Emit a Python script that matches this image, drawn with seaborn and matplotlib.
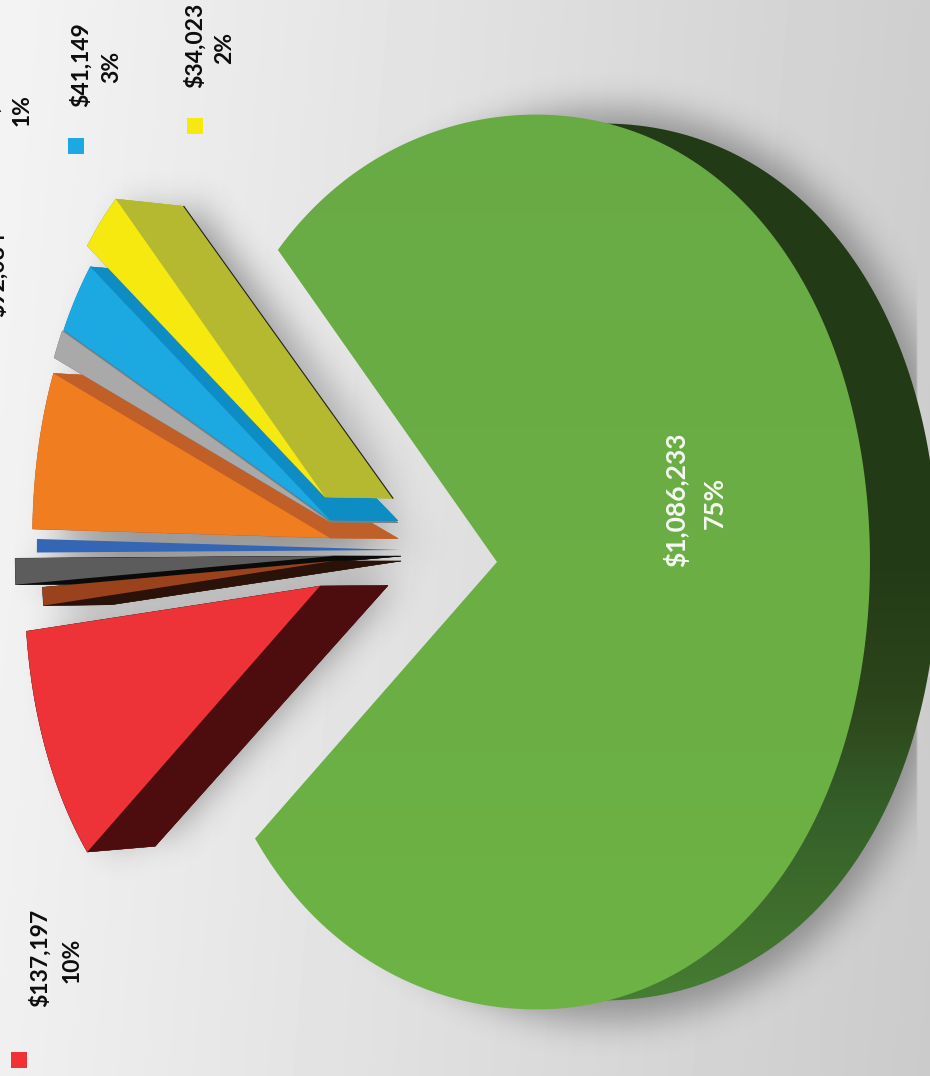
import numpy as np
import matplotlib
matplotlib.use("Agg")
import matplotlib.pyplot as plt
import seaborn as sns
from matplotlib.colors import LinearSegmentedColormap
from matplotlib.patches import Polygon, Rectangle
from matplotlib.path import Path

# Expense slices, in pie order, counter-clockwise from the lower edge of the big slice
names = ["Main", "Yellow", "Cyan", "Gray", "Orange", "Blue", "Slate", "Brown", "Red"]
values = [1086233, 34023, 41149, 16500, 92084, 6500, 14500, 11000, 137197]
top_colors = ["#6bae44", "#f5e90f", "#1ca8e0", "#a9a9a9", "#f07d20",
              "#3565b5", "#5c5c5c", "#9a421c", "#ee3338"]
side_colors = ["#233a17", "#b5b930", "#0e8cc4", "#7f7f7f", "#c05f28",
               None, "#0a0a0a", "#2a1208", "#4d0d0f"]
# Where each slice's point sits once pulled out of the pie, and its size relative to the big slice
apex_x = [497, 325, 330, 330, 330, 400, 333, 333, 320]
apex_y = [562, 497, 520, 522, 538, 550, 556, 561, 586]
radius = [1.0, 0.958, 0.965, 0.97, 0.972, 1.165, 1.032, 0.953, 0.965]
draw_order = [0, 5, 6, 7, 8, 4, 3, 2, 1]

# Value labels and their legend swatches
label_values = [137197, 41149, 34023, 16500, 92084]
label_shares = ["10%", "3%", "2%", "1%", None]
label_x = [40, 81, 195, -9, -3]
label_y = [958, 65, 45, 108, 274]
share_x = [72, 112, 225, 22, None]
share_y = [960, 67, 48, 110, None]
swatch_x = [11, 68, 187]
swatch_y = [1052, 138, 118]
swatch_colors = ["#ee3338", "#1ca8e0", "#f5e90f"]

W, H = 930, 1076
RX, RY = 340.0, 447.0       # pie radii on the page
PERSPECTIVE = 0.097         # the rim is centred this far to the right of the slice point
SQUARENESS = 0.02           # the rim bulges a little on the diagonals
START_ANGLE = 221.0
DEPTH_X = 68.0
DEPTH_SHRINK = 0.98
MID_Y = 562.0

sns.set_theme(style="white")
plt.rcParams["font.family"] = ["Lato", "DejaVu Sans"]

fig = plt.figure(figsize=(W / 100, H / 100), dpi=100)
ax = fig.add_axes([0, 0, 1, 1])
ax.set_xlim(0, W)
ax.set_ylim(H, 0)
ax.axis("off")

# Pale backdrop that darkens towards the right
ramp_x = np.linspace(0.955, 0.81, 256)
ramp_y = np.linspace(0.0, -0.015, 256)[:, None]
ax.imshow(ramp_x + ramp_y, cmap="gray", vmin=0, vmax=1, extent=(0, W, H, 0),
          interpolation="bilinear", aspect="auto", zorder=0)


def slice_faces(i, theta1, theta2):
    """Front face outline of a slice, with the rim on a slightly off-centre circle."""
    n = max(int((theta2 - theta1) * 1.5), 2)
    th = np.radians(np.linspace(theta1, theta2, n))
    r = radius[i]
    t = PERSPECTIVE * np.cos(th) + np.sqrt(r ** 2 - (PERSPECTIVE * np.sin(th)) ** 2)
    t = t * (1 + SQUARENESS * np.sin(2 * th) ** 2)
    xs = apex_x[i] + t * np.cos(th) * RX
    ys = apex_y[i] - t * np.sin(th) * RY
    return np.column_stack([np.r_[apex_x[i], xs], np.r_[apex_y[i], ys]])


def extrude(points):
    """Same outline on the back of the pie."""
    out = points.copy()
    out[:, 0] += DEPTH_X
    out[:, 1] = MID_Y + (out[:, 1] - MID_Y) * DEPTH_SHRINK
    return out


def box_blur(img, size):
    """Three box passes along each axis, close to a gaussian."""
    for _ in range(3):
        for axis in (0, 1):
            c = np.cumsum(np.insert(img, 0, 0, axis=axis), axis=axis)
            n = img.shape[axis]
            lo = np.clip(np.arange(n) - size, 0, n)
            hi = np.clip(np.arange(n) + size + 1, 0, n)
            img = (np.take(c, hi, axis=axis) - np.take(c, lo, axis=axis)) / (2 * size + 1)
    return img


# Slice angles follow directly from the values
share = np.array(values, dtype=float) / np.sum(values)
sweep = share * 360.0
ends = START_ANGLE + np.cumsum(sweep)
starts = ends - sweep
fronts = [slice_faces(i, starts[i], ends[i]) for i in range(len(values))]
backs = [extrude(f) for f in fronts]

# Soft drop shadow under the whole group, cut off short of the right edge
gx, gy = np.meshgrid(np.arange(0, W, 2) + 1.0, np.arange(0, H, 2) + 1.0)
grid = np.column_stack([gx.ravel(), gy.ravel()])
big = np.zeros(gx.shape)
small = np.zeros(gx.shape)
for i, (f, b) in enumerate(zip(fronts, backs)):
    if i == 0:
        grown = b.copy()
        grown[:, 0] = 598 + (grown[:, 0] - 598) * 1.04
        grown[:, 1] = MID_Y + (grown[:, 1] - MID_Y) * 1.04 + 3
        big = np.maximum(big, Path(grown).contains_points(grid).reshape(gx.shape))
    else:
        small = np.maximum(small, Path(b + np.array([8.0, -6.0])).contains_points(grid).reshape(gx.shape))
        small = np.maximum(small, Path(f + np.array([30.0, 0.0])).contains_points(grid).reshape(gx.shape))
shade = np.maximum(box_blur(big.astype(float), 8) * 0.38, box_blur(small.astype(float), 8) * 0.42)
shade[:, gx[0] > 916] = 0
rgba = np.zeros(shade.shape + (4,))
rgba[..., :3] = 0.12
rgba[..., 3] = shade
ax.imshow(rgba, extent=(0, W, H, 0), interpolation="bilinear", aspect="auto", zorder=1)
ax.set_xlim(0, W)
ax.set_ylim(H, 0)


def gradient_fill(points, stops, zorder):
    """Fill an outline with a top-to-bottom colour ramp."""
    cmap = LinearSegmentedColormap.from_list("ramp", stops)
    im = ax.imshow(np.linspace(0, 1, 256)[:, None], cmap=cmap, extent=(0, W, H, 0),
                   aspect="auto", zorder=zorder)
    im.set_clip_path(Polygon(points, closed=True, transform=ax.transData))


# Big slice: shaded rim first, then the face
gradient_fill(backs[0],
              [(0.0, "#233a17"), (0.52, "#233a17"), (0.65, "#2d451b"),
               (0.76, "#35602a"), (0.88, "#42742f"), (1.0, "#4c8a3a")], 2)
gradient_fill(fronts[0], [(0.0, "#68a944"), (0.5, "#6bae44"), (1.0, "#6db344")], 3)

# Pulled-out slices, outer ones first so the neighbours overlap correctly
for z, i in enumerate(draw_order[1:]):
    base = 4 + z * 2
    f, b = fronts[i], backs[i]
    col = side_colors[i]
    if col is not None:
        ax.fill(b[:, 0], b[:, 1], color=col, lw=0.3, zorder=base)
        for a, c in zip(range(len(f)), list(range(1, len(f))) + [0]):
            quad = np.array([f[a], f[c], b[c], b[a]])
            ax.fill(quad[:, 0], quad[:, 1], color=col, lw=0.3, zorder=base)
    ax.fill(f[:, 0], f[:, 1], color=top_colors[i], lw=0, zorder=base + 1)

# Thin dark line on the back edge of the yellow slice
yb = backs[1]
ax.plot([yb[0, 0], yb[1, 0]], [yb[0, 1], yb[1, 1]], color="#222222", lw=0.8, zorder=30)

# Swatches
for x, y, c in zip(swatch_x, swatch_y, swatch_colors):
    ax.add_patch(Rectangle((x, y), 16, 16, facecolor=c, edgecolor="none", zorder=31))

# Labels, all turned on their side
text_style = dict(rotation=90, ha="center", va="center", fontsize=16.5,
                  fontweight="bold", color="#0d0d0d", zorder=32)
for v, s, x, y, sx, sy in zip(label_values, label_shares, label_x, label_y, share_x, share_y):
    ax.text(x, y, f"${v:,}", clip_on=True, **text_style)
    if s is not None:
        ax.text(sx, sy, s, clip_on=True, **text_style)

white_style = dict(text_style, color="#f6fbf2", fontsize=19)
ax.text(676, 500, f"${values[0]:,}", **white_style)
ax.text(715, 503, f"{share[0] * 100:.0f}%", **white_style)

fig.savefig("out.png", dpi=100)
